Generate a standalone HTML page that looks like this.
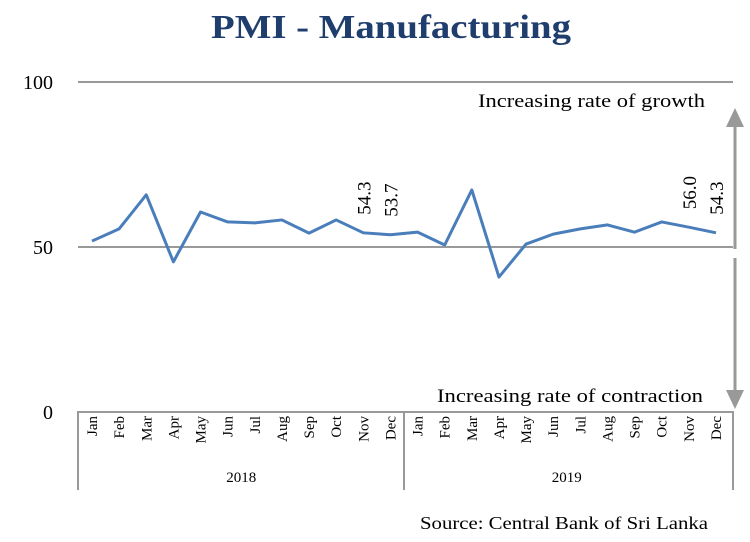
<!DOCTYPE html>
<html><head><meta charset="utf-8"><style>
body{margin:0;background:#fff;width:750px;height:542px;overflow:hidden}
svg{display:block;font-family:"Liberation Serif",serif}
</style></head><body>
<svg id="c" width="750" height="542">
<text x="211" y="38" textLength="360" lengthAdjust="spacingAndGlyphs" font-size="34" font-weight="bold" fill="#1f3e6e">PMI - Manufacturing</text>
<text x="420" y="529" textLength="288" lengthAdjust="spacingAndGlyphs" font-size="18" fill="#000">Source: Central Bank of Sri Lanka</text>
<text x="478" y="107" textLength="227" lengthAdjust="spacingAndGlyphs" font-size="19" fill="#000">Increasing rate of growth</text>
<text x="437" y="402" textLength="266" lengthAdjust="spacingAndGlyphs" font-size="19" fill="#000">Increasing rate of contraction</text>
<g id="arrow">
<line x1="735" y1="125" x2="735" y2="249" stroke="#999" stroke-width="3"/>
<polygon points="726,127 744,127 735,108" fill="#999"/>
<line x1="735" y1="258" x2="735" y2="392" stroke="#999" stroke-width="3"/>
<polygon points="726,390 744,390 735,409" fill="#999"/>
</g>
</svg>
<script>
const categories=["Jan","Feb","Mar","Apr","May","Jun","Jul","Aug","Sep","Oct","Nov","Dec","Jan","Feb","Mar","Apr","May","Jun","Jul","Aug","Sep","Oct","Nov","Dec"];
const years=["2018","2019"];
const pmiValues=[51.8,55.5,65.8,45.5,60.6,57.6,57.3,58.2,54.2,58.2,54.3,53.7,54.5,50.6,67.3,40.9,50.9,53.9,55.5,56.7,54.5,57.6,56.0,54.3];
const labeledIdx=[10,11,22,23];
const yTicks=[0,50,100];
const svg=document.getElementById('c');
const NS='http://www.w3.org/2000/svg';
const y=v=>412-v*3.3;
const x=i=>92+i*27.13;
function mk(t,a){const e=document.createElementNS(NS,t);for(const k in a)e.setAttribute(k,a[k]);svg.appendChild(e);return e;}
yTicks.forEach(t=>{
  if(t>0){const l=mk('line',{x1:78,x2:733,y1:y(t),y2:y(t),stroke:'#999','stroke-width':2});
  
  }
  const tx=mk('text',{x:53,y:y(t)+7,'text-anchor':'end','font-size':20});tx.textContent=t;
  
  
});
const ax=mk('path',{d:'M78,490V412H733V490M404,412V490',fill:'none',stroke:'#999','stroke-width':2});


categories.forEach((c,i)=>{
  const t=mk('text',{transform:`translate(${x(i)+5},${416}) rotate(-90)`,'text-anchor':'end','font-size':15});t.textContent=c;
  
  
});
years.forEach((yr,j)=>{
  const cx=x(j*12+5.5);
  const t=mk('text',{x:cx,y:482,'text-anchor':'middle','font-size':15});t.textContent=yr;
  
  
});
const pl=mk('polyline',{points:pmiValues.map((v,i)=>x(i)+','+y(v)).join(' '),fill:'none',stroke:'#4a7ebb','stroke-width':3,'stroke-linejoin':'round'});


labeledIdx.forEach(i=>{
  const v=pmiValues[i];
  const t=mk('text',{transform:`translate(${x(i)+7},${y(v)-18}) rotate(-90)`,'font-size':19});t.textContent=v.toFixed(1);
  
  
});
</script>
</body></html>
